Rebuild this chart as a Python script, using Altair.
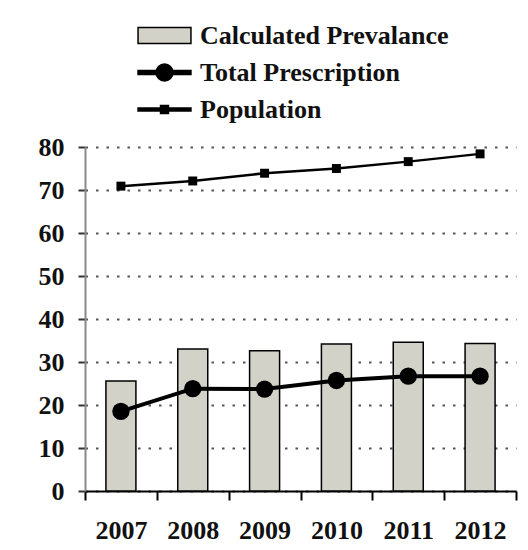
import altair as alt
import pandas as pd

years = ["2007", "2008", "2009", "2010", "2011", "2012"]
prevalence = [25.6, 33.0, 32.6, 34.2, 34.6, 34.3]
prescription = [18.5, 23.8, 23.7, 25.7, 26.7, 26.7]
population = [70.9, 72.1, 73.9, 75.0, 76.6, 78.4]
series_names = ["Calculated Prevalance", "Total Prescription", "Population"]

df = pd.DataFrame({
    "year": years,
    "prevalence": prevalence,
    "prescription": prescription,
    "population": population,
})
legend_df = pd.DataFrame({"series": series_names})

FONT = "Liberation Serif"
BAR_FILL = "#d2d2c8"

xscale = alt.Scale(paddingInner=0, paddingOuter=0)
yscale = alt.Scale(domain=[0, 80], nice=False)

x_axis = alt.Axis(
    title=None, labelAngle=0, labelFont=FONT, labelFontSize=26, labelFontWeight="bold",
    labelColor="#111", labelPadding=17, domainColor="#000", domainWidth=2,
    tickBand="extent", tickSize=9, tickWidth=2, tickColor="#000", grid=False,
)
y_axis = alt.Axis(
    title=None, values=list(range(0, 81, 10)), labelFont=FONT, labelFontSize=26,
    labelFontWeight="bold", labelColor="#111", labelPadding=14,
    domainColor="#8a8a8a", domainWidth=2, tickColor="#333", tickWidth=2, tickSize=7,
    grid=True, gridDash=[2.5, 8], gridColor="#555", gridWidth=2,
)

base = alt.Chart(df).encode(x=alt.X("year:O", scale=xscale, axis=x_axis))

bars = base.mark_bar(size=30, fill=BAR_FILL, stroke="#000", strokeWidth=1.5).encode(
    y=alt.Y("prevalence:Q", scale=yscale, axis=y_axis)
)

presc_line = base.mark_line(color="#000", strokeWidth=4).encode(y="prescription:Q")
presc_pts = base.mark_point(shape="circle", filled=True, color="#000", size=300, opacity=1).encode(
    y="prescription:Q"
)
pop_line = base.mark_line(color="#000", strokeWidth=2.5).encode(y="population:Q")
pop_pts = base.mark_point(shape="square", filled=True, color="#000", size=80, opacity=1).encode(
    y="population:Q"
)

rect_path = "M-1,-0.3H1V0.3H-1Z"
circ_path = ("M-1,-0.075H1V0.075H-1Z "
             "M0.32,0A0.32,0.32,0,1,1,-0.32,0A0.32,0.32,0,1,1,0.32,0Z")
sq_path = "M-1,-0.057H1V0.057H-1Z M-0.15,-0.15H0.15V0.15H-0.15Z"

legend_props = dict(
    title=None, orient="none", legendX=52, legendY=-128, direction="vertical",
    labelFont=FONT, labelFontSize=26, labelFontWeight="bold", labelColor="#111",
    labelLimit=500, labelOffset=8, symbolSize=2800, rowPadding=4, clipHeight=33,
    symbolStrokeColor="#000", symbolStrokeWidth=1.5, symbolOpacity=1,
)

legend_layer = alt.Chart(legend_df).mark_point(
    filled=True, opacity=1, strokeWidth=1.5
).encode(
    x=alt.value(-3000),
    y=alt.value(-3000),
    shape=alt.Shape(
        "series:N",
        scale=alt.Scale(domain=series_names, range=[rect_path, circ_path, sq_path]),
        legend=alt.Legend(**legend_props),
    ),
    color=alt.Color(
        "series:N",
        scale=alt.Scale(domain=series_names, range=[BAR_FILL, "#000", "#000"]),
        legend=alt.Legend(**legend_props),
    ),
    stroke=alt.Stroke(
        "series:N",
        scale=alt.Scale(domain=series_names, range=["#000", "#000", "#000"]),
        legend=alt.Legend(**legend_props),
    ),
)

chart = alt.layer(bars, presc_line, presc_pts, pop_line, pop_pts, legend_layer).properties(
    width=431,
    height=344,
    autosize=alt.AutoSizeParams(type="none"),
    padding={"left": 77, "top": 139, "right": 4, "bottom": 58},
    background="white",
).configure_view(stroke=None)

chart.save("out.html", embed_options={"renderer": "svg", "actions": False})
